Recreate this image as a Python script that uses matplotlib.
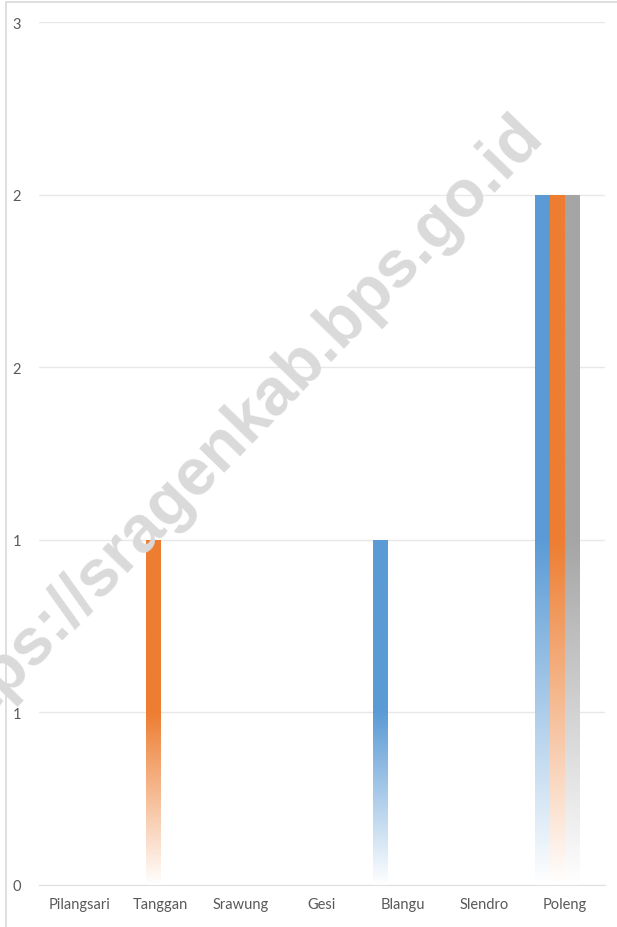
import numpy as np
import matplotlib.pyplot as plt
from matplotlib.colors import to_rgb
from matplotlib.patches import Rectangle

# data
categories = ['Pilangsari', 'Tanggan', 'Srawung', 'Gesi', 'Blangu', 'Slendro', 'Poleng']
series_1 = [0, 0, 0, 0, 1, 0, 2]
series_2 = [0, 1, 0, 0, 0, 0, 2]
series_3 = [0, 0, 0, 0, 0, 0, 2]
series_4 = [0, 0, 0, 0, 0, 0, 0]
y_ticks = [0, 0.5, 1, 1.5, 2, 2.5]
y_tick_labels = ['0', '1', '1', '2', '2', '3']

colors = ['#5B9BD5', '#ED7D31', '#A5A5A5', '#FFC000']
all_series = [series_1, series_2, series_3, series_4]

plt.rcParams['font.family'] = ['Lato', 'DejaVu Sans']

fig = plt.figure(figsize=(6.17, 9.28), dpi=100)
ax = fig.add_axes([39 / 617, 42 / 928, 566 / 617, 863 / 928])

x = np.arange(len(categories))
width = 0.182


def gradient_fill(rect, color):
    # solid for the top half, fading to white towards the baseline
    h = rect.get_height()
    if h <= 0:
        return
    c = np.array(to_rgb(color))
    t = np.linspace(0, 1, 256)
    k = np.clip((t - 0.5) / 0.5, 0, 1)[:, None]
    rgb = c * (1 - k) + np.ones(3) * k
    img = rgb[:, None, :]
    x0 = rect.get_x()
    im = ax.imshow(img, extent=(x0, x0 + rect.get_width(), 0, h),
                   origin='upper', aspect='auto', zorder=2, interpolation='bilinear')
    im.set_clip_path(rect)


for i, (vals, col) in enumerate(zip(all_series, colors)):
    bars = ax.bar(x + (i - 1.5) * width, vals, width, facecolor='none',
                  edgecolor='none', zorder=2)
    for r in bars:
        gradient_fill(r, col)

ax.set_xlim(-0.5, len(categories) - 0.5)
ax.set_ylim(0, 2.5)
ax.set_yticks(y_ticks)
ax.set_yticklabels(y_tick_labels)
ax.set_xticks(x)
ax.set_xticklabels(categories)
ax.tick_params(axis='both', length=0, labelsize=10.5, colors='#595959')
ax.tick_params(axis='y', pad=13)
ax.tick_params(axis='x', pad=9)
ax.grid(axis='y', color='#e8e8e8', linewidth=1)
ax.set_axisbelow(True)
for s in ['top', 'right', 'left']:
    ax.spines[s].set_visible(False)
ax.spines['bottom'].set_color('#e0e0e0')

# outer chart border
fig.patches.append(Rectangle((6 / 617, -0.01), 1.0, 1 - 3 / 928 + 0.01,
                             transform=fig.transFigure, fill=False,
                             edgecolor='#d9d9d9', linewidth=1.2))

# watermark
fig.text(233 / 617, 1 - 435 / 928, 'https://sragenkab.bps.go.id', rotation=46,
         rotation_mode='anchor', ha='center', va='center', fontsize=47.5,
         fontweight='bold', family=['Liberation Sans', 'DejaVu Sans'],
         color='#dadada', zorder=5)

fig.savefig('out.png', dpi=100)
